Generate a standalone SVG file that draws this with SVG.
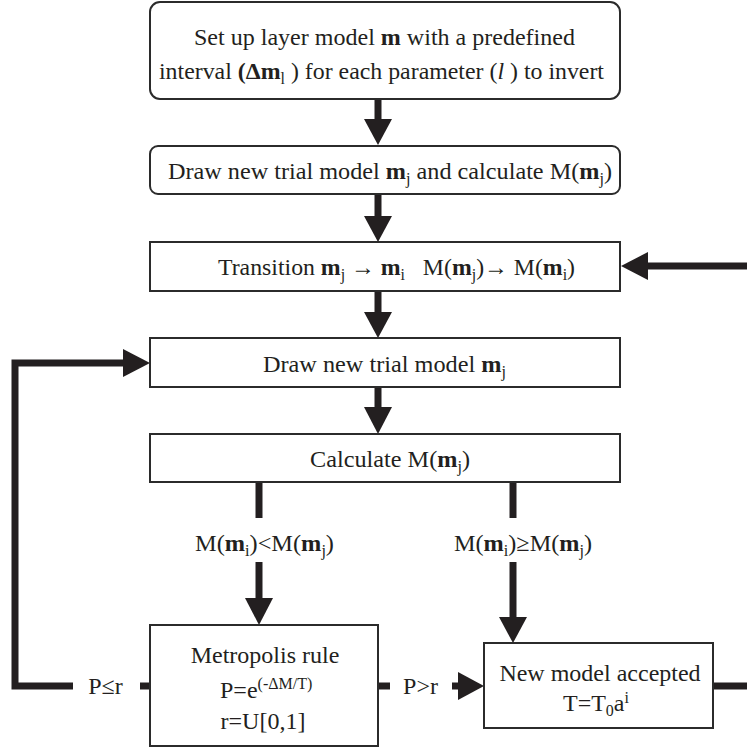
<svg xmlns="http://www.w3.org/2000/svg" width="747" height="749" viewBox="0 0 747 749">
<style>
.box{fill:#fff;stroke:#2b2b2b;stroke-width:2}
.ln{fill:none;stroke:#231f20;stroke-width:7;stroke-linejoin:miter;stroke-linecap:butt}
.hd{fill:#231f20}
text{font-family:"Liberation Serif","Times New Roman",serif;font-size:24px;fill:#231f20}
.c{text-anchor:middle}
.b{font-weight:bold}
.s{font-size:16px}
</style>
<g id="connectors">
<line class="ln" x1="378" y1="99" x2="378" y2="121"/>
<polygon class="hd" points="364,119 392,119 378,145"/>
<line class="ln" x1="378" y1="194" x2="378" y2="218"/>
<polygon class="hd" points="364,216 392,216 378,242"/>
<line class="ln" x1="747" y1="266" x2="646" y2="266"/>
<polygon class="hd" points="648,252 648,280 621,266"/>
<line class="ln" x1="378" y1="291" x2="378" y2="314"/>
<polygon class="hd" points="364,312 392,312 378,338"/>
<line class="ln" x1="378" y1="387" x2="378" y2="409"/>
<polygon class="hd" points="364,407 392,407 378,434"/>
<path class="ln" d="M73 686 H15 V363 H125"/>
<polygon class="hd" points="123,349 123,377 150,363"/>
<line class="ln" x1="259" y1="482" x2="259" y2="518"/>
<line class="ln" x1="259" y1="562" x2="259" y2="600"/>
<polygon class="hd" points="245,598 273,598 259,625"/>
<line class="ln" x1="513" y1="482" x2="513" y2="518"/>
<line class="ln" x1="513" y1="562" x2="513" y2="619"/>
<polygon class="hd" points="499,617 527,617 513,643"/>
<line class="ln" x1="140" y1="686" x2="150" y2="686"/>
<line class="ln" x1="378" y1="686" x2="390" y2="686"/>
<line class="ln" x1="452" y1="686" x2="460" y2="686"/>
<polygon class="hd" points="458,672 458,700 484,686"/>
<line class="ln" x1="713" y1="686" x2="747" y2="686"/>
<text class="c" x="105.5" y="694">P≤r</text>
<text class="c" x="420.5" y="694">P&gt;r</text>
<text x="195" y="551" textLength="139" lengthAdjust="spacingAndGlyphs">M(<tspan class="b">m</tspan><tspan class="s" dy="5">i</tspan><tspan dy="-5">)&lt;M(</tspan><tspan class="b">m</tspan><tspan class="s" dy="5">j</tspan><tspan dy="-5">)</tspan></text>
<text x="454" y="551" textLength="138" lengthAdjust="spacingAndGlyphs">M(<tspan class="b">m</tspan><tspan class="s" dy="5">i</tspan><tspan dy="-5">)≥M(</tspan><tspan class="b">m</tspan><tspan class="s" dy="5">j</tspan><tspan dy="-5">)</tspan></text>
</g>
<g id="n1">
<rect class="box" x="150" y="2" width="470" height="97" rx="10"/>
<text x="194" y="45" textLength="381" lengthAdjust="spacingAndGlyphs">Set up layer model <tspan class="b">m</tspan> with a predefined</text>
<text x="159" y="79" textLength="445" lengthAdjust="spacingAndGlyphs">interval <tspan class="b">(Δm</tspan><tspan class="s" dy="5">l</tspan><tspan dy="-5"> ) for each parameter (</tspan><tspan font-style="italic">l</tspan> ) to invert</text>
</g>
<g id="n2">
<rect class="box" x="150" y="146" width="470" height="48" rx="8"/>
<text x="168" y="179" textLength="444" lengthAdjust="spacingAndGlyphs">Draw new trial model <tspan class="b">m</tspan><tspan class="s" dy="5">j</tspan><tspan dy="-5"> and calculate M(</tspan><tspan class="b">m</tspan><tspan class="s" dy="5">j</tspan><tspan dy="-5">)</tspan></text>
</g>
<g id="n3">
<rect class="box" x="150" y="242" width="470" height="49"/>
<text x="218" y="275" textLength="357" lengthAdjust="spacingAndGlyphs">Transition <tspan class="b">m</tspan><tspan class="s" dy="5">j</tspan><tspan dy="-5"> → </tspan><tspan class="b">m</tspan><tspan class="s" dy="5">i</tspan><tspan dy="-5" xml:space="preserve">   M(</tspan><tspan class="b">m</tspan><tspan class="s" dy="5">j</tspan><tspan dy="-5">)→ M(</tspan><tspan class="b">m</tspan><tspan class="s" dy="5">i</tspan><tspan dy="-5">)</tspan></text>
</g>
<g id="n4">
<rect class="box" x="150" y="338" width="470" height="49"/>
<text x="263" y="372" textLength="243" lengthAdjust="spacingAndGlyphs">Draw new trial model <tspan class="b">m</tspan><tspan class="s" dy="5">j</tspan></text>
</g>
<g id="n5">
<rect class="box" x="150" y="434" width="470" height="48"/>
<text x="310" y="467" textLength="160" lengthAdjust="spacingAndGlyphs">Calculate M(<tspan class="b">m</tspan><tspan class="s" dy="5">j</tspan><tspan dy="-5">)</tspan></text>
</g>
<g id="n6">
<rect class="box" x="150" y="625" width="228" height="121"/>
<text class="c" x="265" y="663">Metropolis rule</text>
<text x="220" y="698">P=e<tspan class="s" dy="-9">(-ΔM/T)</tspan></text>
<text class="c" x="263" y="729">r=U[0,1]</text>
</g>
<g id="n7">
<rect class="box" x="484" y="643" width="229" height="85"/>
<text class="c" x="600" y="681">New model accepted</text>
<text x="563" y="711">T=T<tspan class="s" dy="5">0</tspan><tspan dy="-5">a</tspan><tspan class="s" dy="-8">i</tspan></text>
</g>
</svg>
